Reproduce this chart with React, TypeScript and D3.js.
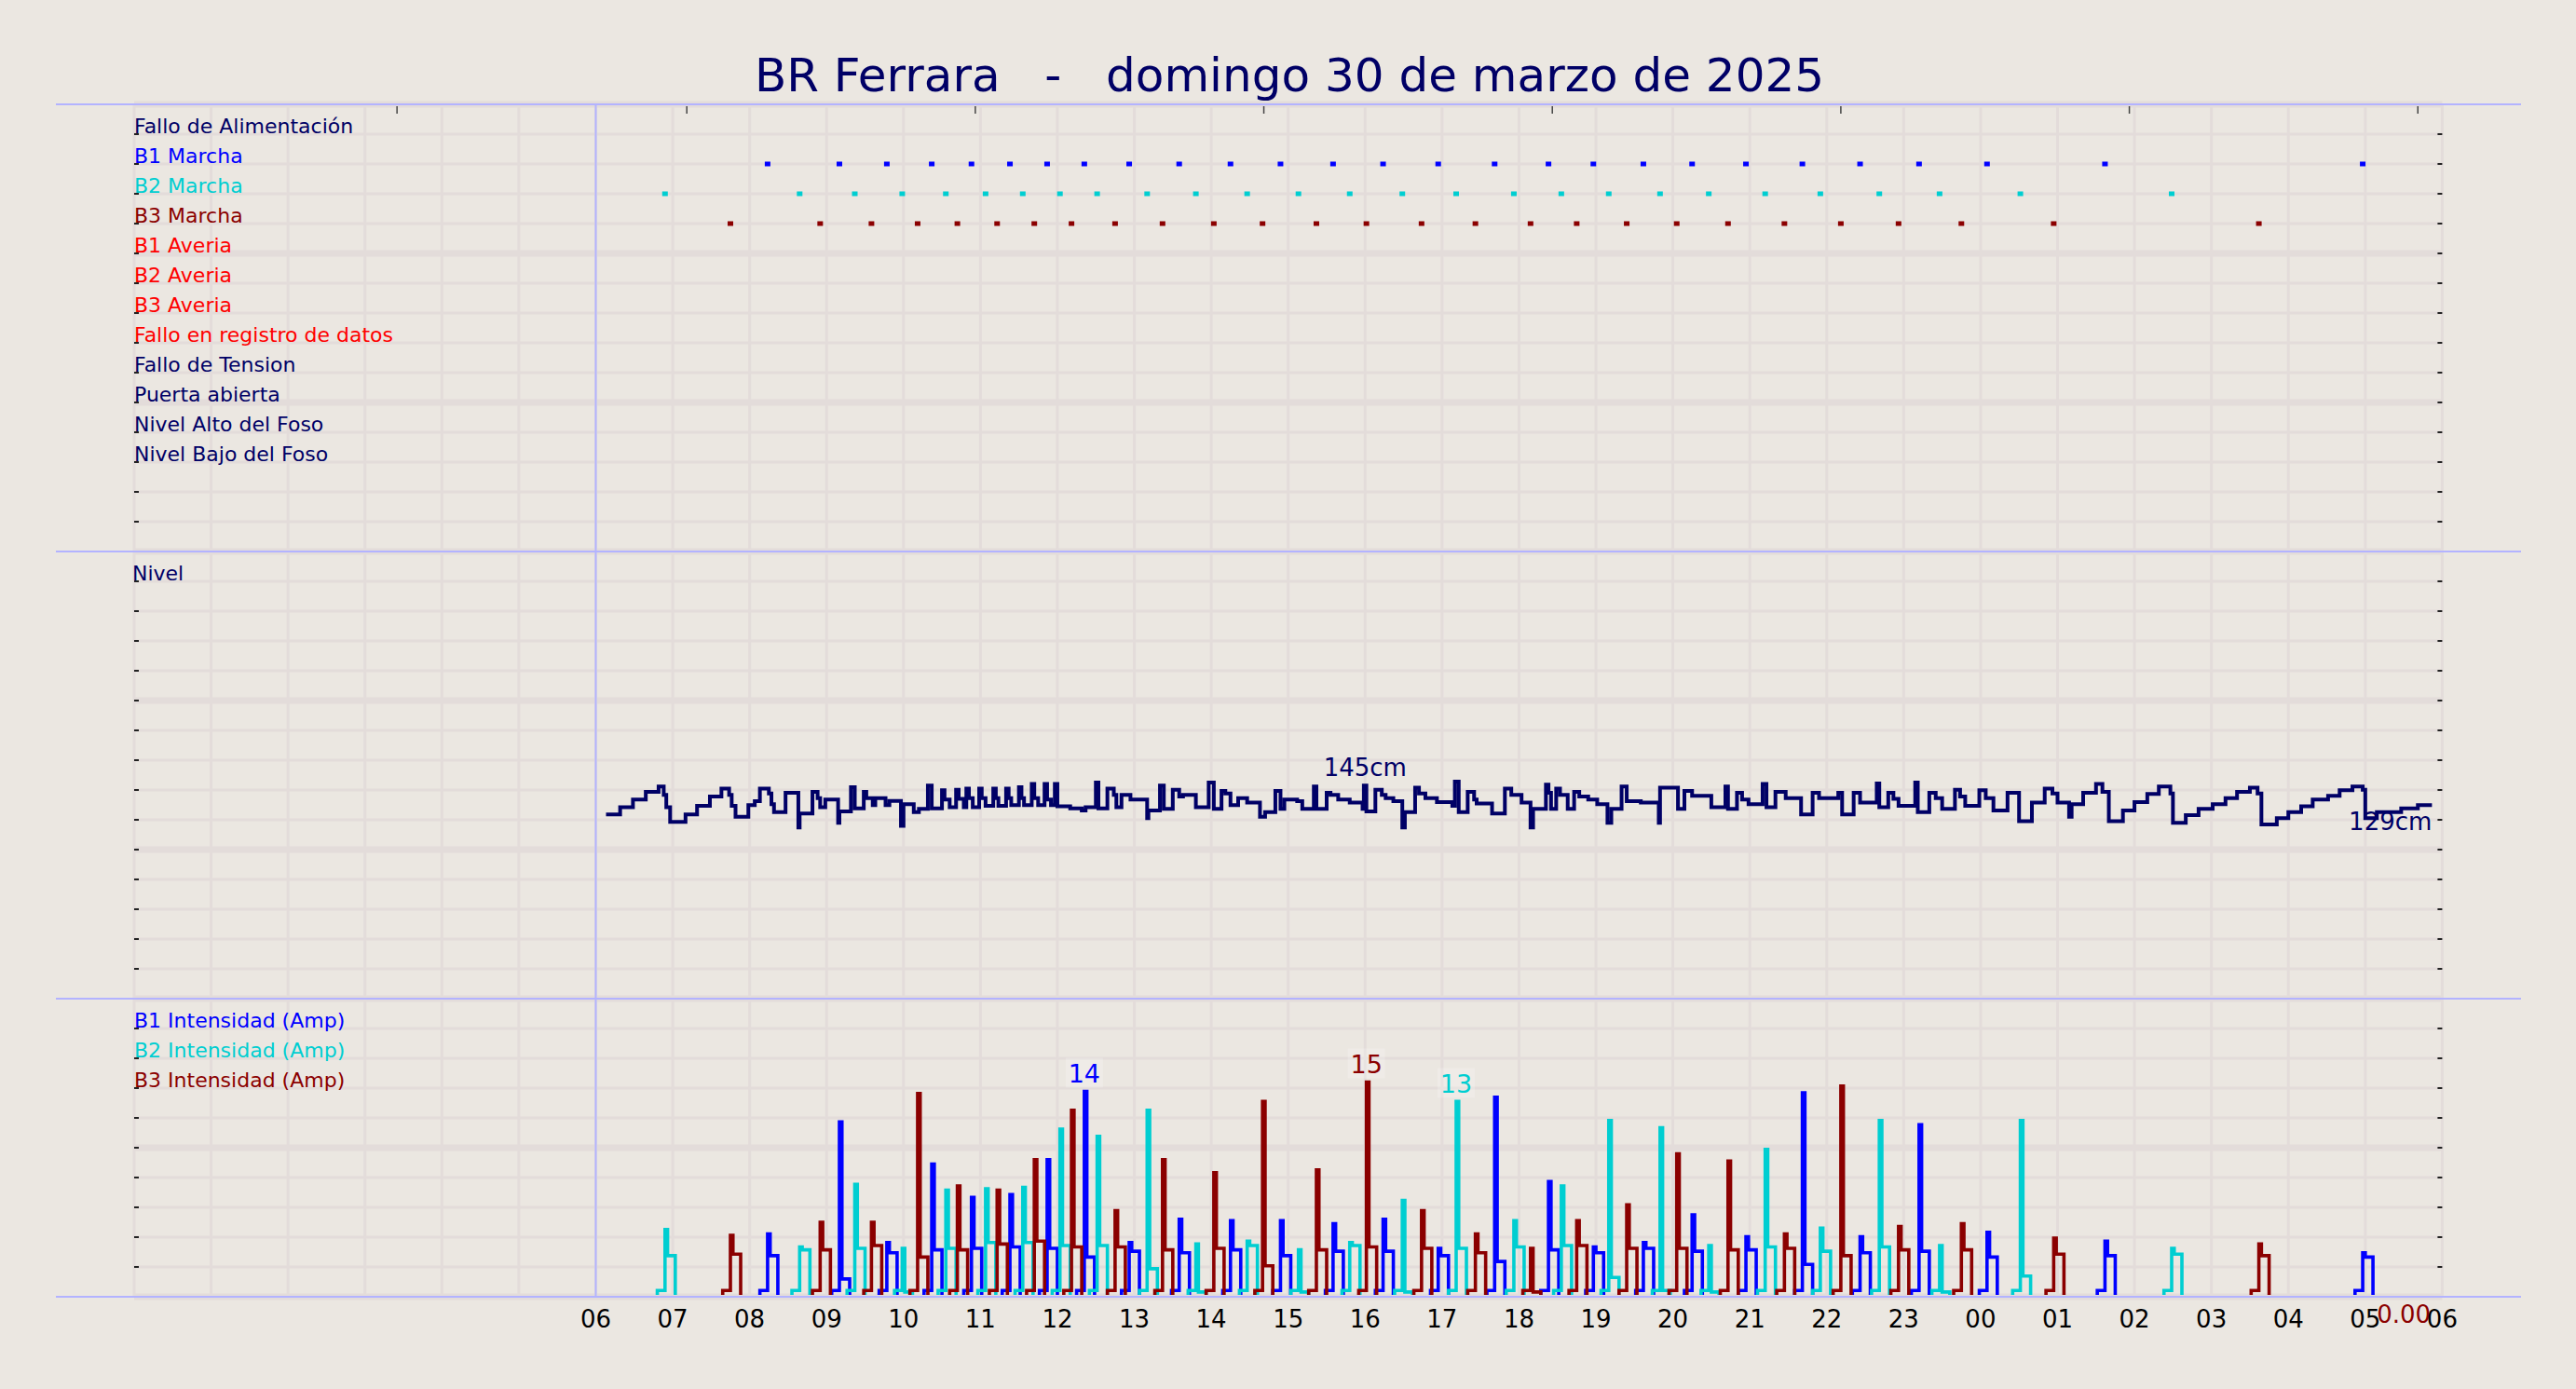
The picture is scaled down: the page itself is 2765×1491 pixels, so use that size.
import React from 'react';
import * as d3 from 'd3';

// ── Data ──────────────────────────────────────────────────────────────────────
const TITLE = 'BR Ferrara   -   domingo 30 de marzo de 2025';

const EVENT_ROWS = [
  'Fallo de Alimentación', 'B1 Marcha', 'B2 Marcha', 'B3 Marcha',
  'B1 Averia', 'B2 Averia', 'B3 Averia', 'Fallo en registro de datos',
  'Fallo de Tension', 'Puerta abierta', 'Nivel Alto del Foso', 'Nivel Bajo del Foso',
];
const EVENT_COLORS = [
  '#000066', '#0000ff', '#00ced1', '#8b0000',
  '#ff0000', '#ff0000', '#ff0000', '#ff0000',
  '#000066', '#000066', '#000066', '#000066',
];

const HOUR_LABELS = ['06', '07', '08', '09', '10', '11', '12', '13', '14', '15', '16', '17', '18',
  '19', '20', '21', '22', '23', '00', '01', '02', '03', '04', '05', '06'];
// minutes since 00:00 of the 30th
const TOP_TICKS = [205, 431, 656, 881, 1106, 1331, 1556, 1781];

// pump runs: [time of peak, peak Amp, Amp after peak]
const B1_RUNS: [string, number, number][] = [
  ['08:14', 4.2, 2.7], ['09:10', 11.9, 1.1], ['09:47', 3.6, 2.9], ['10:22', 9.0, 3.1],
  ['10:53', 6.7, 3.2], ['11:23', 6.9, 3.3], ['11:52', 9.3, 3.2], ['12:21', 14.0, 2.6],
  ['12:56', 3.6, 3.0], ['13:35', 5.2, 2.9], ['14:15', 5.1, 3.1], ['14:54', 5.1, 2.7],
  ['15:35', 4.9, 3.0], ['16:14', 5.2, 3.0], ['16:57', 3.2, 2.7], ['17:41', 13.6, 2.3],
  ['18:23', 7.8, 3.1], ['18:58', 3.3, 2.9], ['19:37', 3.6, 3.2], ['20:15', 5.5, 3.0],
  ['20:57', 4.0, 3.1], ['21:41', 13.9, 2.1], ['22:26', 4.0, 2.9], ['23:12', 11.7, 3.0],
  ['00:05', 4.3, 2.6], ['01:37', 3.7, 2.7], ['04:58', 2.9, 2.6],
];
const B2_RUNS: [string, number, number][] = [
  ['06:54', 4.5, 2.7], ['08:39', 3.3, 3.1], ['09:22', 7.6, 3.2], ['09:59', 3.2, 0.2],
  ['10:33', 7.2, 3.2], ['11:04', 7.3, 3.6], ['11:33', 7.4, 3.6], ['12:02', 11.4, 3.4],
  ['12:31', 10.9, 3.4], ['13:10', 12.7, 1.8], ['13:48', 3.5, 0.2], ['14:28', 3.7, 3.4],
  ['15:08', 3.1, 0.2], ['15:48', 3.6, 3.4], ['16:29', 6.5, 0.2], ['17:11', 13.3, 3.2],
  ['17:56', 5.1, 3.3], ['18:33', 7.5, 3.4], ['19:10', 12.0, 1.2], ['19:50', 11.5, 0.3],
  ['20:28', 3.4, 0.2], ['21:12', 10.0, 3.3], ['21:55', 4.6, 3.0], ['22:41', 12.0, 3.3],
  ['23:28', 3.4, 0.2], ['00:31', 12.0, 1.3], ['02:29', 3.2, 2.8],
];
const B3_RUNS: [string, number, number][] = [
  ['07:45', 4.1, 2.8], ['08:55', 5.0, 3.1], ['09:35', 5.0, 3.4], ['10:11', 13.85, 2.6],
  ['10:42', 7.5, 3.1], ['11:13', 7.2, 3.5], ['11:42', 9.3, 3.7], ['12:11', 12.7, 3.3],
  ['12:45', 5.8, 3.3], ['13:22', 9.3, 3.1], ['14:02', 8.4, 3.2], ['14:40', 13.3, 2.0],
  ['15:22', 8.6, 3.1], ['16:01', 14.64, 3.3], ['16:44', 5.8, 3.2], ['17:26', 4.2, 2.9],
  ['18:09', 3.2, 0.2], ['18:45', 5.1, 3.4], ['19:24', 6.2, 3.2], ['20:03', 9.7, 3.2],
  ['20:43', 9.2, 3.1], ['21:27', 4.2, 3.2], ['22:11', 14.36, 2.7], ['22:56', 4.7, 3.1],
  ['23:45', 4.9, 3.1], ['00:57', 3.9, 2.8], ['03:37', 3.5, 2.7],
];
const LAST_B3 = 0;

// pit level: [minutes after 06:00, cm]
const LEVEL: [number, number][] = [
  [8, 123.6], [19, 128.4], [29, 133.6], [39, 138.8], [49, 142.3], [53, 136.7], [55, 128.4], [58, 118.6],
  [70, 123.6], [79, 129.4], [89, 135.6], [98, 140.9], [104, 136.7], [106, 129.4], [109, 122.1], [119, 129.8],
  [124, 132.5], [128, 140.9], [135, 137.7], [137, 130.4], [139, 125.2], [148, 138.1], [158, 114.8], [159, 124.2],
  [169, 138.8], [173, 134.6], [175, 128.4], [179, 133.6], [189, 118.0], [190, 125.6], [199, 141.9], [202, 127.7],
  [209, 138.8], [211, 134.6], [216, 129.8], [218, 134.6], [226, 129.8], [229, 132.7], [238, 115.9], [240, 130.4],
  [248, 125.2], [252, 127.3], [259, 143.0], [262, 127.7], [270, 139.8], [272, 133.6], [276, 128.4], [281, 140.2],
  [283, 134.0], [287, 128.4], [289, 140.9], [291, 134.6], [294, 128.4], [299, 140.9], [301, 134.6], [304, 129.4],
  [310, 140.9], [312, 134.6], [314, 129.4], [320, 140.9], [322, 134.6], [324, 129.8], [330, 141.9], [332, 134.6],
  [334, 129.8], [340, 144.0], [342, 134.6], [345, 129.8], [350, 144.0], [352, 133.6], [355, 129.8], [358, 144.0],
  [360, 129.0], [370, 127.7], [379, 126.3], [382, 128.4], [390, 145.0], [392, 127.7], [399, 140.9], [404, 136.7],
  [406, 128.4], [410, 136.7], [417, 133.6], [430, 121.1], [431, 126.3], [440, 143.0], [443, 127.3], [450, 140.2],
  [455, 135.6], [458, 136.7], [468, 128.4], [478, 145.0], [482, 127.3], [488, 139.4], [491, 137.7], [495, 129.8],
  [501, 134.6], [508, 131.5], [518, 122.1], [522, 125.2], [530, 139.4], [534, 127.3], [537, 133.6], [547, 132.5],
  [551, 127.3], [560, 142.3], [562, 127.3], [570, 138.1], [573, 136.7], [579, 133.6], [588, 131.5], [598, 127.3],
  [599, 143.0], [601, 125.6], [608, 140.2], [613, 136.7], [616, 134.6], [622, 132.5], [629, 114.8], [631, 125.2],
  [639, 141.5], [642, 137.7], [647, 134.6], [656, 131.9], [668, 129.4], [670, 145.6], [673, 125.2], [680, 138.8],
  [685, 133.6], [687, 131.0], [699, 124.2], [709, 140.9], [714, 136.7], [722, 131.5], [729, 114.8], [731, 127.3],
  [741, 143.6], [743, 138.1], [745, 127.3], [749, 140.9], [752, 136.7], [758, 127.3], [763, 138.8], [767, 135.6],
  [774, 133.6], [781, 130.4], [789, 118.0], [792, 127.3], [800, 142.3], [804, 132.5], [815, 131.5], [829, 118.0],
  [830, 141.5], [844, 127.3], [849, 139.4], [855, 136.1], [870, 128.4], [881, 142.3], [883, 127.3], [890, 138.1],
  [894, 133.6], [899, 130.4], [910, 144.0], [913, 128.4], [920, 138.8], [928, 134.6], [940, 123.6], [949, 138.1],
  [954, 134.6], [969, 138.1], [972, 123.6], [981, 138.1], [986, 131.5], [999, 144.4], [1001, 128.4], [1008, 138.1],
  [1012, 134.0], [1016, 129.4], [1029, 145.0], [1031, 125.2], [1040, 138.1], [1045, 134.6], [1050, 127.3], [1060, 140.2],
  [1064, 135.6], [1068, 129.4], [1079, 139.8], [1084, 134.6], [1090, 126.3], [1101, 138.1], [1110, 119.0], [1120, 131.5],
  [1130, 140.9], [1136, 137.7], [1140, 131.5], [1149, 122.1], [1151, 130.4], [1160, 138.1], [1170, 144.0], [1175, 138.8],
  [1180, 119.0], [1191, 126.3], [1200, 131.9], [1210, 137.3], [1219, 142.3], [1228, 137.7], [1230, 118.0], [1240, 123.1],
  [1250, 127.3], [1261, 130.4], [1271, 134.6], [1280, 138.8], [1290, 141.5], [1296, 137.7], [1299, 116.9], [1311, 121.1],
  [1320, 125.2], [1330, 129.0], [1339, 133.6], [1351, 136.1], [1360, 139.8], [1370, 142.3], [1378, 140.2], [1380, 121.1],
  [1389, 125.2], [1408, 127.7], [1421, 129.8], [1432, 129.8],
];
const LEVEL_NOTE = { time: '16:00', cm: 145 };

// ── Helpers ───────────────────────────────────────────────────────────────────
const toMin = (hhmm: string) => {
  const [h, m] = hhmm.split(':').map(Number);
  return (h < 6 ? h + 24 : h) * 60 + m;
};

const W = 2765;
const H = 1491;
const FONT = 'DejaVu Sans, Verdana, sans-serif';
const BG = '#ebe7e1';
const GRID = '#e3dcda';
const FRAME = '#b3b3ff';
const NAVY = '#000066';

export default function App() {
  const x = d3.scaleLinear().domain([0, 1800]).range([144, 2621.4]);
  const row = d3.scaleLinear().domain([0, 40]).range([112, 1392]);
  const yLevel = d3.scaleLinear().domain([0, 300]).range([1072, 592]);
  const yAmp = d3.scaleLinear().domain([0, 20.5]).range([1390, 1070]);

  const series = [
    { name: 'B1 Intensidad (Amp)', color: '#0000ff', runs: B1_RUNS, row: 1 },
    { name: 'B2 Intensidad (Amp)', color: '#00ced1', runs: B2_RUNS, row: 2 },
    { name: 'B3 Intensidad (Amp)', color: '#8b0000', runs: B3_RUNS, row: 3 },
  ];

  const ampLine = d3.line<[number, number]>()
    .x(d => x(d[0])).y(d => yAmp(d[1])).curve(d3.curveStepAfter);
  const pulse = (t: number, peak: number, mid: number): [number, number][] => [
    [t - 6, 0], [t - 6, 0.3], [t, peak], [t + 2, mid], [t + 8, 0],
  ];

  const levelLine = d3.line<[number, number]>()
    .x(d => x(d[0] + 360)).y(d => yLevel(d[1])).curve(d3.curveStepAfter);
  const last = LEVEL[LEVEL.length - 1];

  const hours = d3.range(0, 31);
  const rows = d3.range(0, 41);

  return (
    <svg width={W} height={H} style={{ position: 'absolute', left: 0, top: 0, display: 'block' }}
      fontFamily={FONT}>
      <rect width={W} height={H} fill={BG} />

      {/* grid */}
      {hours.map(h => (
        <line key={'v' + h} x1={x(h * 60)} x2={x(h * 60)} y1={112} y2={1392} stroke={GRID} strokeWidth={3} />
      ))}
      {rows.map(r => (
        <line key={'h' + r} x1={x(0)} x2={x(1800)} y1={row(r)} y2={row(r)} stroke={GRID}
          strokeWidth={r % 5 === 0 ? 7 : 3} />
      ))}

      {/* panel frames */}
      {[0, 15, 30, 40].map(r => (
        <line key={'f' + r} x1={60} x2={2706} y1={row(r)} y2={row(r)} stroke={FRAME} strokeWidth={2} />
      ))}
      <line x1={x(360)} x2={x(360)} y1={112} y2={1392} stroke={FRAME} strokeWidth={2} />

      {/* y ticks both sides */}
      {rows.filter(r => ![0, 15, 30, 40].includes(r)).map(r => (
        <g key={'t' + r}>
          <line x1={x(0)} x2={x(0) + 5} y1={row(r)} y2={row(r)} stroke="#222" strokeWidth={2} />
          <line x1={x(1800) - 5} x2={x(1800)} y1={row(r)} y2={row(r)} stroke="#222" strokeWidth={2} />
        </g>
      ))}
      {TOP_TICKS.map(m => (
        <line key={'tt' + m} x1={x(m)} x2={x(m)} y1={114} y2={122} stroke="#444" strokeWidth={1.5} />
      ))}

      {/* event rows */}
      {EVENT_ROWS.map((name, i) => (
        <text key={name} x={x(0)} y={row(i + 1) - 1} fontSize={22} fill={EVENT_COLORS[i]}>{name}</text>
      ))}
      {series.map(s => s.runs.map(([t]) => (
        <rect key={s.name + t} x={x(toMin(t)) - 3} y={row(s.row + 1) - 2.5} width={6} height={5}
          fill={s.color} />
      )))}

      {/* level */}
      <text x={x(0) - 2} y={row(16) - 1} fontSize={22} fill={NAVY}>Nivel</text>
      <path d={levelLine(LEVEL) || ''} fill="none" stroke={NAVY} strokeWidth={4} />
      <text x={x(toMin(LEVEL_NOTE.time))} y={yLevel(LEVEL_NOTE.cm) - 7} fontSize={26} fill={NAVY}
        textAnchor="middle">{LEVEL_NOTE.cm}cm</text>
      <text x={x(last[0] + 360)} y={yLevel(last[1]) + 27} fontSize={26} fill={NAVY}
        textAnchor="end">{Math.floor(last[1])}cm</text>

      {/* intensities */}
      {series.map(s => (
        <g key={s.name}>
          <text x={x(0)} y={row(30 + s.row) - 1} fontSize={22} fill={s.color}>{s.name}</text>
          {s.runs.map(([t, p, m]) => (
            <path key={t} d={ampLine(pulse(toMin(t), p, m)) || ''} fill="none" stroke={s.color}
              strokeWidth={3.6} />
          ))}
        </g>
      ))}
      {series.map(s => {
        const top = s.runs.reduce((a, b) => (b[1] > a[1] ? b : a));
        const cx = x(toMin(top[0]));
        const cy = yAmp(top[1]) - 9;
        return (
          <g key={'pk' + s.name}>
            <rect x={cx - 20} y={cy - 27} width={40} height={32} fill="#ffffff" opacity={0.2} />
            <text x={cx} y={cy} fontSize={27} fill={s.color} textAnchor="middle">{Math.round(top[1])}</text>
          </g>
        );
      })}
      <text x={x(toMin('05:30'))} y={1420} fontSize={26} fill="#8b0000" textAnchor="middle">
        {LAST_B3.toFixed(2)}
      </text>

      {/* hour labels */}
      {HOUR_LABELS.map((l, i) => (
        <text key={'hl' + i} x={x((6 + i) * 60)} y={1425} fontSize={26} fill="#000" textAnchor="middle">{l}</text>
      ))}

      <text x={1384} y={98} fontSize={50} fill={NAVY} textAnchor="middle" style={{ whiteSpace: 'pre' }}>
        {TITLE}
      </text>
    </svg>
  );
}
